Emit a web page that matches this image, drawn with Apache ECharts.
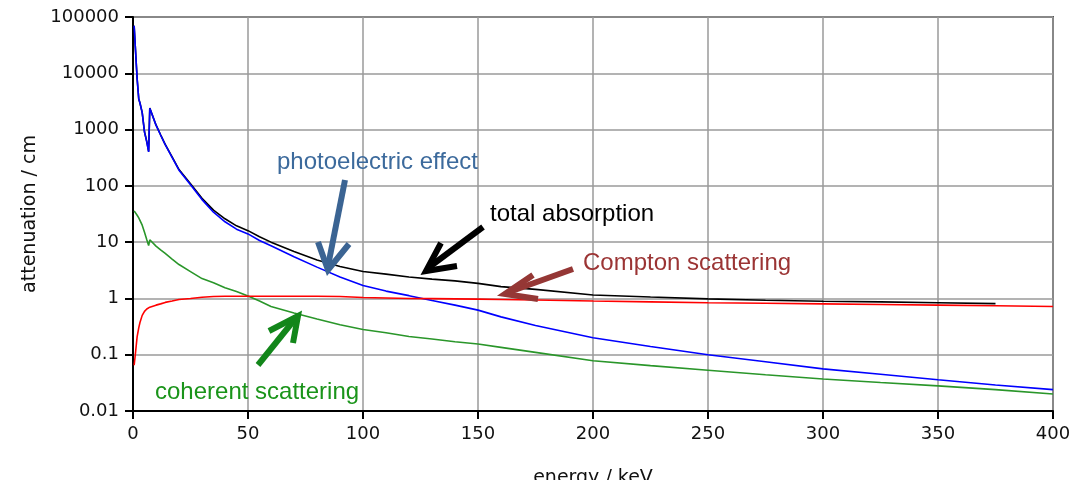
<!DOCTYPE html>
<html><head><meta charset="utf-8">
<script src="https://cdn.jsdelivr.net/npm/echarts@6/dist/echarts.min.js"></script>
<style>html,body{margin:0;padding:0;background:#fff}#c{width:1073px;height:480px}</style>
</head><body><div id="c"></div>
<script>
// energy grid (keV)
var energy = [0.5,1,1.8,2.5,3,4,5,6,6.8,7.3,8,10,12,14,17,20,25,30,35,40,45,50,55,60,70,80,90,100,110,120,130,140,150,160,175,200,225,250,275,300,325,350,375,400];
// attenuation / cm
var total = [70000,30000,8000,3500,3000,2000,915,612,410,2410,2010,1210,808,547,326,195,109,60,37,26,19.5,16,12.5,10,6.8,4.8,3.7,3.0,2.7,2.4,2.2,2.05,1.85,1.62,1.45,1.15,1.06,0.98,0.93,0.89,0.87,0.84,0.81,null];
var photo = [70000,30000,8000,3500,3000,2000,900,600,400,2400,2000,1200,800,540,320,190,105,57,34,23,17,14,10.7,8.6,5.5,3.6,2.4,1.7,1.35,1.12,0.92,0.76,0.62,0.47,0.33,0.20,0.14,0.10,0.075,0.056,0.045,0.036,0.029,0.024];
var compton = [0.065,0.10,0.21,0.30,0.37,0.50,0.59,0.65,0.68,0.70,0.71,0.76,0.80,0.85,0.90,0.96,1.0,1.05,1.08,1.09,1.09,1.09,1.09,1.09,1.09,1.09,1.08,1.04,1.02,1.0,0.99,0.98,0.97,0.96,0.94,0.90,0.87,0.84,0.82,0.80,0.78,0.76,0.74,0.72];
var coherent = [36,34,30,27,25,20,15,11,8.7,11,10.5,8.5,7.3,6.3,5.0,4.0,3.0,2.25,1.9,1.55,1.33,1.1,0.9,0.72,0.55,0.43,0.34,0.28,0.245,0.21,0.19,0.17,0.155,0.135,0.11,0.078,0.064,0.053,0.044,0.037,0.032,0.028,0.024,0.020];
var yTickLabels = {"0.01":"0.01","0.1":"0.1","1":"1","10":"10","100":"100","1000":"1000","10000":"10000","100000":"100000"};

function pairs(vals){ return energy.map(function(e,i){ return [e, vals[i]]; }); }

var chart = echarts.init(document.getElementById('c'), null, {renderer:'canvas'});
var tickFont = {fontFamily:'DejaVu Sans', fontSize:18, color:'#111'};
function lineSeries(name, vals, color, z){
  return {name:name, type:'line', data:pairs(vals), showSymbol:false, symbol:'none',
    lineStyle:{color:color, width:1.6}, z:z, animation:false, connectNulls:false};
}
chart.setOption({
  animation:false,
  backgroundColor:'#ffffff',
  grid:{left:133, right:20, top:17, bottom:69, containLabel:false, outerBoundsMode:'none',
    show:true, borderColor:'#555', borderWidth:2, backgroundColor:'transparent'},
  xAxis:{type:'value', min:0, max:400, interval:50,
    name:'energy / keV', nameLocation:'middle', nameGap:58,
    nameTextStyle:{fontFamily:'DejaVu Sans', fontSize:19, color:'#111'},
    axisLine:{lineStyle:{color:'#000', width:2}},
    axisTick:{inside:false, length:8, lineStyle:{color:'#000', width:2}},
    axisLabel:Object.assign({margin:14}, tickFont),
    splitLine:{show:true, lineStyle:{color:'#9a9a9a', width:1.5}}},
  yAxis:{type:'log', logBase:10, min:0.01, max:100000,
    name:'attenuation / cm', nameLocation:'middle', nameGap:91, nameRotate:90,
    nameTextStyle:{fontFamily:'DejaVu Sans', fontSize:19, color:'#111', padding:[0,0,0,0]},
    axisLine:{show:true, onZero:false, lineStyle:{color:'#000', width:2}},
    axisTick:{inside:false, length:8, lineStyle:{color:'#000', width:2}},
    axisLabel:Object.assign({margin:14, formatter:function(v){ var k=String(+v.toPrecision(3)); return yTickLabels[k]!==undefined?yTickLabels[k]:k; }}, tickFont),
    splitLine:{show:true, lineStyle:{color:'#9a9a9a', width:1.5}}},
  series:[
    lineSeries('total absorption', total, '#000000', 3),
    lineSeries('photoelectric effect', photo, '#0000ff', 4),
    lineSeries('coherent scattering', coherent, '#2a962a', 5),
    lineSeries('Compton scattering', compton, '#ff0000', 6)
  ]
});

function arrow(shaft, head, color){
  return [
    {type:'polyline', shape:{points:shaft}, style:{stroke:color, lineWidth:6, fill:null, lineCap:'butt'}, z:100},
    {type:'polyline', shape:{points:head}, style:{stroke:color, lineWidth:6, fill:null, lineJoin:'miter', lineCap:'butt'}, z:100}
  ];
}
var g = [];
g = g.concat(arrow([[345,180],[328,266]], [[318,242],[328,270],[349,244]], '#3b6493'));
g = g.concat(arrow([[483,227],[428,268]], [[441,243],[426,271],[457,266]], '#000000'));
g = g.concat(arrow([[573,269],[509,292]], [[533,275],[505,294],[538,299]], '#953735'));
g = g.concat(arrow([[258,365],[295,319]], [[269,331],[298,316],[293,343]], '#12861a'));
function label(text, x, y, color){
  return {type:'text', x:x, y:y, z:101, style:{text:text, fill:color, font:'24px "Liberation Sans", Arial, sans-serif', textVerticalAlign:'middle', verticalAlign:'middle'}};
}
g.push(label('photoelectric effect', 277, 162, '#3c6a9c'));
g.push(label('total absorption', 490, 214, '#000000'));
g.push(label('Compton scattering', 583, 263, '#9b3434'));
g.push(label('coherent scattering', 155, 392, '#1a941a'));
chart.setOption({graphic:g});
</script>
</body></html>
